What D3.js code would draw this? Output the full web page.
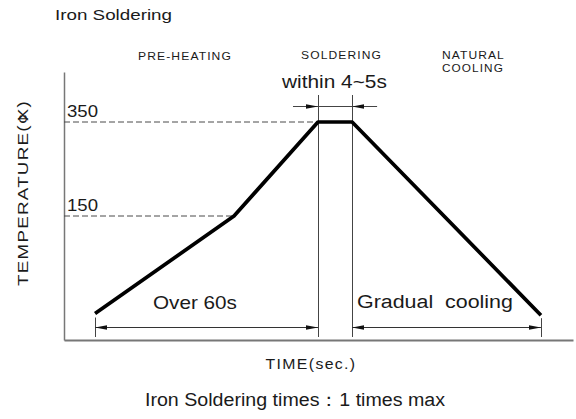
<!DOCTYPE html>
<html>
<head>
<meta charset="utf-8">
<script src="https://d3js.org/d3.v7.min.js"></script>
<style>
  body { margin: 0; background: #fff; }
  text { font-family: "Liberation Sans", Arial, sans-serif; fill: #1a1a1a; white-space: pre; }
</style>
</head>
<body>
<svg class="profile_chart" width="576" height="419"></svg>
<script>
// soldering profile, schematic (time in arbitrary units, temp in deg C)
var profileTime = [6.1, 33.4, 49.9, 56.6, 93.7];
var profileTemp = [32, 150, 350, 350, 30];
var tempTicks = [150, 350];
var phaseLabels = ["PRE-HEATING", "SOLDERING", ["NATURAL", "COOLING"]];
var spanLabels = ["Over 60s", "within 4~5s", "Gradual  cooling"];
var titleText = "Iron Soldering";
var xTitle = "TIME(sec.)";
var noteText = "Iron Soldering times\uff1a1 times max";

var svg = d3.select('.profile_chart');

var xScale, yScale;

var plot = { left: 64, right: 573, top: 72, bottom: 340 };

function setScales() {
    xScale = d3.scaleLinear().domain([0, 100]).range([plot.left, plot.right]);

    // piecewise, the drawing is not to scale
    yScale = d3.scaleLinear()
        .domain([0, 150, 350, 456])
        .range([plot.bottom, 216, 122, plot.top]);
}

// the source font is wide, so stretch the glyphs to the measured width
function fitText(t, x, y, width, rot) {
    var w = t.node().getBBox().width;
    t.attr("transform", "translate(" + x + "," + y + ")" +
        (rot ? " rotate(-90)" : "") + " scale(" + (width / w) + ",1)");
    return t;
}

function addText(str, size, anchor, spacing) {
    return svg.append("text")
        .attr("font-size", size)
        .attr("text-anchor", anchor || "start")
        .attr("letter-spacing", spacing || 0)
        .text(str);
}

function drawChart() {

    var defs = svg.append("defs");
    defs.append("marker")
        .attr("id", "arrow")
        .attr("viewBox", "0 -3 12 6")
        .attr("refX", 12)
        .attr("refY", 0)
        .attr("markerUnits", "userSpaceOnUse")
        .attr("markerWidth", 12)
        .attr("markerHeight", 6)
        .attr("orient", "auto-start-reverse")
        .append("path")
        .attr("d", "M0,-2.3L12,0L0,2.3Z")
        .attr("fill", "#111");

    var pts = profileTime.map(function (t, i) {
        return { t: t, temp: profileTemp[i] };
    });

    // axes, no ticks
    svg.append("g")
        .attr("transform", "translate(" + plot.left + ",0)")
        .call(d3.axisLeft(yScale).tickValues([]).tickSizeOuter(0))
        .select(".domain")
        .attr("stroke", "#777")
        .attr("stroke-width", 1.5);

    svg.append("g")
        .attr("transform", "translate(0," + plot.bottom + ")")
        .call(d3.axisBottom(xScale).tickValues([]).tickSizeOuter(0))
        .select(".domain")
        .attr("stroke", "#777")
        .attr("stroke-width", 2);

    // dashed guide lines + labels
    tempTicks.forEach(function (v) {
        var p = pts.find(function (d) { return d.temp == v; });
        svg.append("line")
            .attr("x1", plot.left).attr("x2", xScale(p.t))
            .attr("y1", yScale(v)).attr("y2", yScale(v))
            .attr("stroke", "#4a4a4a")
            .attr("stroke-dasharray", "6,3");
        fitText(addText(v, 17), plot.left + 3, yScale(v) - 5, 31);
    });

    // extension lines
    var ext = [
        { t: profileTime[0], y0: yScale(profileTemp[0]) + 4 },
        { t: profileTime[2], y0: 95 },
        { t: profileTime[3], y0: 95 },
        { t: profileTime[4], y0: yScale(profileTemp[4]) + 3 }
    ];
    svg.selectAll(".ext")
        .data(ext).enter()
        .append("line")
        .attr("class", "ext")
        .attr("x1", function (d) { return Math.round(xScale(d.t)) + 0.5; })
        .attr("x2", function (d) { return Math.round(xScale(d.t)) + 0.5; })
        .attr("y1", function (d) { return d.y0; })
        .attr("y2", 337)
        .attr("stroke", "#444")
        .attr("stroke-width", 1);

    // bottom dimension lines
    var dimY = 327.5;
    [[0, 2], [3, 4]].forEach(function (s) {
        svg.append("line")
            .attr("x1", xScale(profileTime[s[0]])).attr("x2", xScale(profileTime[s[1]]))
            .attr("y1", dimY).attr("y2", dimY)
            .attr("stroke", "#333")
            .attr("marker-start", "url(#arrow)")
            .attr("marker-end", "url(#arrow)");
    });

    // top dimension (arrows pointing in)
    var topY = 106.5,
        xa = xScale(profileTime[2]),
        xb = xScale(profileTime[3]);
    svg.append("line")
        .attr("x1", xa - 25).attr("x2", xb + 25)
        .attr("y1", topY).attr("y2", topY)
        .attr("stroke", "#444");
    svg.append("line")
        .attr("x1", xa - 25).attr("x2", xa)
        .attr("y1", topY).attr("y2", topY)
        .attr("stroke", "none")
        .attr("marker-end", "url(#arrow)");
    svg.append("line")
        .attr("x1", xb + 25).attr("x2", xb)
        .attr("y1", topY).attr("y2", topY)
        .attr("stroke", "none")
        .attr("marker-end", "url(#arrow)");

    // profile
    var line = d3.line()
        .x(function (d) { return xScale(d.t); })
        .y(function (d) { return yScale(d.temp); });

    svg.append("path")
        .datum(pts)
        .attr("d", line)
        .attr("fill", "none")
        .attr("stroke", "#000")
        .attr("stroke-width", 3.7)
        .attr("stroke-linejoin", "round");

    // texts
    fitText(addText(titleText, 15), 55, 20, 117);

    fitText(addText(phaseLabels[0], 11, "middle", 1), 185, 60, 94);
    fitText(addText(phaseLabels[1], 11, "middle", 1), 341.5, 59, 81);
    fitText(addText(phaseLabels[2][0], 11, "start", 1), 442, 59, 63);
    fitText(addText(phaseLabels[2][1], 11, "start", 1), 442, 71.5, 62);

    fitText(addText(spanLabels[0], 18), 153, 309, 84);
    fitText(addText(spanLabels[1], 18), 282, 88, 106);
    fitText(addText(spanLabels[2], 18), 357, 308, 156);

    var yt = svg.append("text")
        .attr("font-size", 15)
        .attr("letter-spacing", 1)
        .attr("text-anchor", "middle");
    yt.append("tspan").text("TEMPERATURE(\u00a2");
    yt.append("tspan").attr("dx", -7).text("X)");
    fitText(yt, 28, 193, 186, true);

    fitText(addText(xTitle, 14, "middle", 1.2), 311, 369, 91);

    fitText(addText(noteText, 18, "middle"), 295, 406, 300);
}

setScales();
drawChart();
</script>
</body>
</html>
